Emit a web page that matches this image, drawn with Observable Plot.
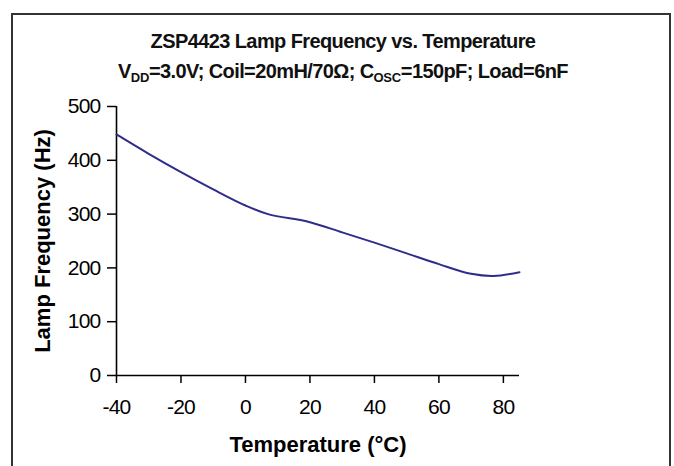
<!DOCTYPE html>
<html>
<head>
<meta charset="utf-8">
<script src="https://cdn.jsdelivr.net/npm/d3@7"></script>
<script src="https://cdn.jsdelivr.net/npm/@observablehq/plot@0.6"></script>
<style>
  html, body { margin: 0; padding: 0; background: #fff; }
  body { width: 674px; height: 466px; position: relative; overflow: hidden;
         font-family: "Liberation Sans", Arial, sans-serif; }
  #frame { position: absolute; left: 11px; top: 13px; width: 656px; height: 470px;
           border: 2px solid #333; }
  .ttl { position: absolute; left: 0; width: 686px; text-align: center; font-weight: bold;
         font-size: 20px; line-height: 20px; color: #111; letter-spacing: -0.6px; white-space: nowrap; }
  .ttl sub { font-size: 13px; vertical-align: -4px; line-height: 0; letter-spacing: -0.3px; }
  #chart { position: absolute; left: 0; top: 88px; }
</style>
</head>
<body>
<div id="frame"></div>
<div class="ttl" style="top:31px">ZSP4423 Lamp Frequency vs. Temperature</div>
<div class="ttl" style="top:61px">V<sub>DD</sub>=3.0V; Coil=20mH/70Ω; C<sub>OSC</sub>=150pF; Load=6nF</div>
<div id="chart"></div>
<script>
// Data
const temperature = [-40, -30, -20, -10, 0, 7, 20, 30, 40, 50, 60, 70, 77, 85];
const frequency   = [448, 412, 378, 346, 316, 300, 285, 266, 247, 227, 207, 189, 185, 192];
const xTicks = [-40, -20, 0, 20, 40, 60, 80];
const yTicks = [0, 100, 200, 300, 400, 500];

const data = temperature.map((t, i) => ({t, f: frequency[i]}));

const plot = Plot.plot({
  width: 674,
  height: 378,
  marginLeft: 116,
  marginRight: 155,
  marginTop: 18,
  marginBottom: 91,
  style: {fontFamily: "'Liberation Sans', Arial, sans-serif", color: "#000", background: "transparent"},
  x: {domain: [-40, 85]},
  y: {domain: [0, 500]},
  marks: [
    Plot.axisX({ticks: xTicks, tickSize: 8, tickPadding: 16, fontSize: 21, stroke: "#000", strokeWidth: 1.5,
      label: "Temperature (°C)", labelAnchor: "center", labelArrow: "none", labelOffset: 76,
      tickFormat: d => String(d).replace("−", "-")}),
    Plot.axisY({ticks: yTicks, tickSize: 9, tickPadding: 7, fontSize: 21, stroke: "#000", strokeWidth: 1.5,
      label: "Lamp Frequency (Hz)", labelAnchor: "center", labelArrow: "none", labelOffset: 82}),
    Plot.ruleY([0], {stroke: "#000", strokeWidth: 1.6}),
    Plot.ruleX([-40], {stroke: "#000", strokeWidth: 1.6}),
    Plot.line(data, {x: "t", y: "f", curve: "catmull-rom", stroke: "#2e2e8a", strokeWidth: 2})
  ]
});
plot.querySelectorAll("[aria-label='x-axis label'] text, [aria-label='y-axis label'] text").forEach(t => {
  t.setAttribute("font-weight", "bold");
  t.setAttribute("font-size", 22);
});
plot.querySelectorAll("[aria-label='x-axis tick label'] text, [aria-label='y-axis tick label'] text").forEach(t => {
  t.setAttribute("letter-spacing", "-0.8");
});
document.getElementById("chart").appendChild(plot);
</script>
</body>
</html>
